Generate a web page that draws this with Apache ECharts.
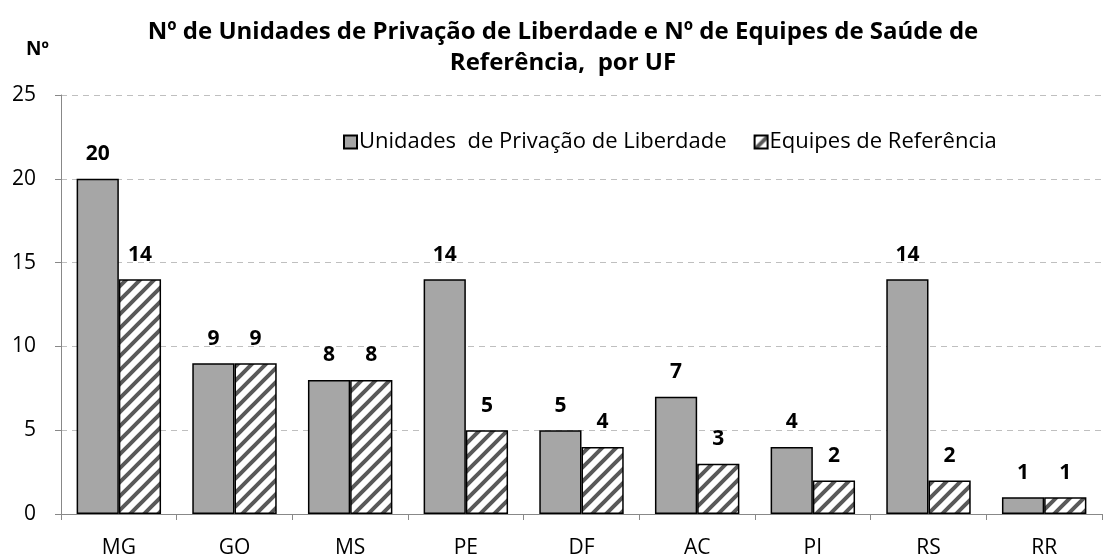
<!DOCTYPE html>
<html>
<head>
<meta charset="utf-8">
<script src="https://cdn.jsdelivr.net/npm/echarts@6/dist/echarts.min.js"></script>
<style>
  html, body { margin: 0; padding: 0; background: #fff; }
  #chart { width: 1107px; height: 558px; }
</style>
</head>
<body>
<div id="chart"></div>
<script>
// dados do gráfico
var ufs = ['MG', 'GO', 'MS', 'PE', 'DF', 'AC', 'PI', 'RS', 'RR'];
var unidades = [20, 9, 8, 14, 5, 7, 4, 14, 1];
var equipes = [14, 9, 8, 5, 4, 3, 2, 2, 1];

var fontFam = '"Open Sans", "Noto Sans", sans-serif';

// padrão de hachura diagonal
function hatch() {
  var s = 14;
  var c = document.createElement('canvas');
  c.width = s; c.height = s;
  var ctx = c.getContext('2d');
  ctx.fillStyle = '#fff';
  ctx.fillRect(0, 0, s, s);
  ctx.strokeStyle = '#595959';
  ctx.lineWidth = 4;
  ctx.beginPath();
  ctx.moveTo(-s, s); ctx.lineTo(s, -s);
  ctx.moveTo(0, s); ctx.lineTo(s, 0);
  ctx.moveTo(0, 2 * s); ctx.lineTo(2 * s, 0);
  ctx.stroke();
  return c;
}

var chart = echarts.init(document.getElementById('chart'));
chart.setOption({
  animation: false,
  title: [
    {
      text: 'Nº de Unidades de Privação de Liberdade e Nº de Equipes de Saúde de\nReferência,  por UF',
      left: 558, top: 12, textAlign: 'center',
      textStyle: { fontFamily: fontFam, fontSize: 24, fontWeight: 'bold', color: '#000', lineHeight: 31 }
    },
    {
      text: 'Nº',
      left: 21, top: 35,
      textStyle: { fontFamily: fontFam, fontSize: 19, fontWeight: 'bold', color: '#000' }
    }
  ],
  legend: {
    left: 338, top: 126,
    itemWidth: 13, itemHeight: 13, itemGap: 27,
    icon: 'rect',
    textStyle: { fontFamily: fontFam, fontSize: 22, color: '#000', padding: [0, 0, 0, -3] },
    data: ['Unidades  de Privação de Liberdade', 'Equipes de Referência']
  },
  grid: { left: 61, right: 5, top: 95, bottom: 44, outerBoundsMode: 'none' },
  xAxis: {
    type: 'category',
    data: ufs,
    axisLine: { lineStyle: { color: '#888', width: 1 } },
    axisTick: { show: true, length: 6, lineStyle: { color: '#888' } },
    axisLabel: { fontFamily: fontFam, fontSize: 21, color: '#000', margin: 24 }
  },
  yAxis: {
    type: 'value',
    min: 0, max: 25, interval: 5,
    axisLine: { show: true, lineStyle: { color: '#888' } },
    axisTick: { show: true, length: 6, lineStyle: { color: '#888' } },
    axisLabel: { fontFamily: fontFam, fontSize: 21, color: '#000', margin: 25 },
    splitLine: { lineStyle: { type: [6, 5], color: '#bfbfbf', width: 1 } }
  },
  series: [
    {
      name: 'Unidades  de Privação de Liberdade',
      type: 'bar',
      data: unidades,
      barGap: '0%',
      barCategoryGap: '27%',
      itemStyle: { color: '#a6a6a6', borderColor: '#000', borderWidth: 1.5 },
      label: { show: true, position: 'top', distance: 14, fontFamily: fontFam, fontSize: 21, fontWeight: 'bold', color: '#000' }
    },
    {
      name: 'Equipes de Referência',
      type: 'bar',
      data: equipes,
      itemStyle: { color: { image: hatch(), repeat: 'repeat' }, borderColor: '#000', borderWidth: 1.5 },
      label: { show: true, position: 'top', distance: 14, fontFamily: fontFam, fontSize: 21, fontWeight: 'bold', color: '#000' }
    }
  ]
});
</script>
</body>
</html>
